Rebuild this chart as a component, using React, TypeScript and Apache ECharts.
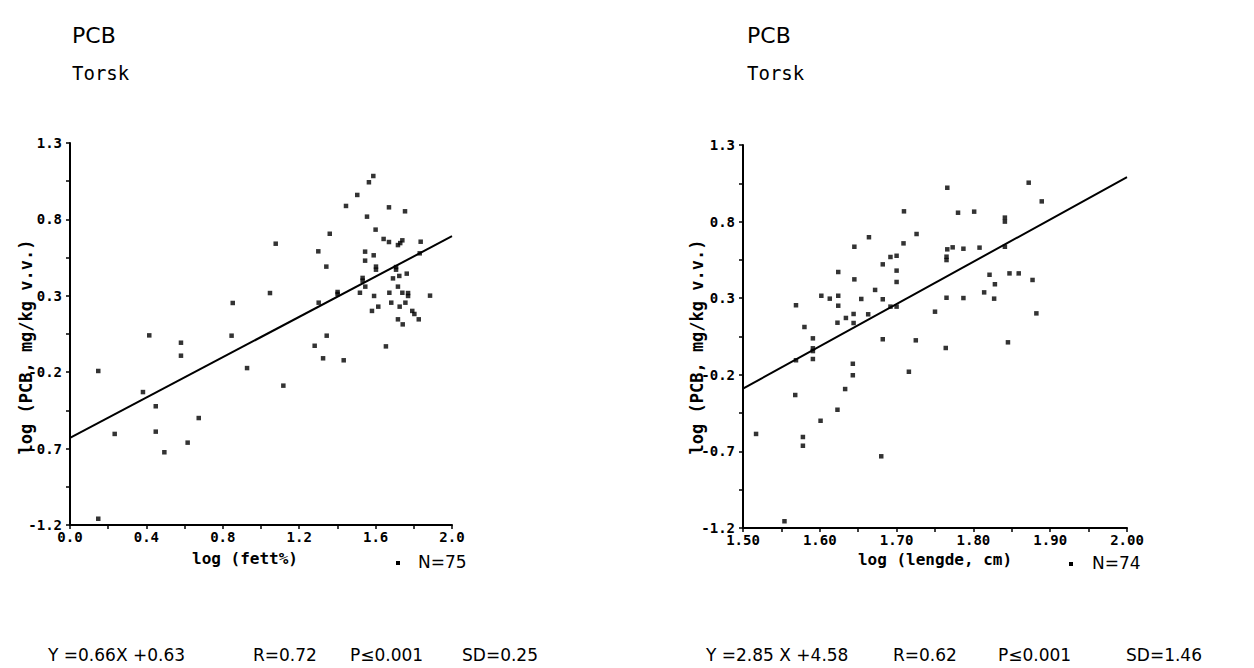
import React, { useEffect, useRef } from "react";
import * as echarts from "echarts";

// Left panel: log(fett%) vs log(PCB)
const leftPoints: number[][] = [
  [1.077, 0.641], [1.588, 1.084], [1.565, 1.043], [1.504, 0.96], [1.445, 0.888],
  [1.67, 0.879], [1.754, 0.853], [1.555, 0.818], [1.36, 0.706], [1.6, 0.733],
  [1.642, 0.672], [1.67, 0.652], [1.717, 0.632], [1.729, 0.645], [1.74, 0.663],
  [1.836, 0.654], [1.831, 0.578], [1.3, 0.591], [1.545, 0.589], [1.59, 0.565],
  [1.545, 0.53], [1.342, 0.491], [1.602, 0.491], [1.602, 0.471], [1.707, 0.488],
  [1.707, 0.471], [1.724, 0.43], [1.763, 0.445], [1.691, 0.414], [1.532, 0.417],
  [1.532, 0.399], [1.546, 0.36], [1.717, 0.36], [1.401, 0.325], [1.401, 0.312],
  [1.518, 0.32], [1.672, 0.32], [1.74, 0.32], [1.77, 0.318], [1.77, 0.299],
  [1.592, 0.299], [1.885, 0.301], [1.047, 0.318], [1.302, 0.255], [1.682, 0.255],
  [1.756, 0.255], [1.726, 0.229], [1.614, 0.229], [1.581, 0.201], [1.792, 0.201],
  [1.803, 0.181], [1.826, 0.146], [1.717, 0.146], [1.742, 0.113], [1.344, 0.039],
  [1.281, -0.027], [1.654, -0.031], [1.325, -0.109], [1.433, -0.122],
  [0.846, 0.039], [0.927, -0.173], [1.117, -0.288], [0.852, 0.253],
  [0.148, -0.192], [0.415, 0.041], [0.581, -0.007], [0.581, -0.092], [0.382, -0.33],
  [0.449, -0.423], [0.674, -0.5], [0.234, -0.604], [0.449, -0.589], [0.616, -0.661],
  [0.494, -0.724], [0.148, -1.159],
];
const leftLine: number[][] = [[0.0, -0.63], [2.0, 0.69]];

// Right panel: log(lengde, cm) vs log(PCB)
const rightPoints: number[][] = [
  [1.7096, 0.867], [1.726, 0.719], [1.664, 0.698], [1.645, 0.636], [1.709, 0.658],
  [1.692, 0.569], [1.7, 0.577], [1.682, 0.521], [1.624, 0.471], [1.7, 0.48],
  [1.645, 0.423], [1.7, 0.406], [1.672, 0.354], [1.602, 0.316], [1.613, 0.297],
  [1.624, 0.316], [1.654, 0.295], [1.682, 0.293], [1.569, 0.254], [1.624, 0.251],
  [1.692, 0.245], [1.7, 0.245], [1.75, 0.212], [1.644, 0.197], [1.663, 0.195],
  [1.634, 0.171], [1.623, 0.14], [1.644, 0.138], [1.58, 0.112], [1.591, 0.038],
  [1.682, 0.032], [1.725, 0.025], [1.591, -0.027], [1.591, -0.045], [1.591, -0.097],
  [1.569, -0.105], [1.643, -0.128], [1.643, -0.203], [1.716, -0.18], [1.633, -0.293],
  [1.568, -0.332], [1.623, -0.428], [1.601, -0.5], [1.517, -0.586], [1.578, -0.606],
  [1.578, -0.663], [1.68, -0.732], [1.554, -1.156],
  [1.766, 1.021], [1.872, 1.054], [1.889, 0.932], [1.78, 0.858], [1.801, 0.865],
  [1.841, 0.826], [1.841, 0.8], [1.766, 0.619], [1.773, 0.632], [1.787, 0.623],
  [1.808, 0.63], [1.765, 0.571], [1.765, 0.549], [1.841, 0.636], [1.821, 0.453],
  [1.847, 0.462], [1.859, 0.462], [1.828, 0.391], [1.877, 0.419], [1.814, 0.338],
  [1.765, 0.303], [1.787, 0.301], [1.827, 0.297], [1.882, 0.201],
  [1.764, -0.025], [1.845, 0.012],
];
const rightLine: number[][] = [[1.5, -0.29], [2.0, 1.09]];

const titles = ["PCB", "Torsk"];
const yName = "log (PCB, mg/kg v.v.)";
const xNames = ["log (fett%)", "log (lengde, cm)"];
const nLabels = ["N=75", "N=74"];
const leftStats = ["Y =0.66X +0.63", "R=0.72", "P≤0.001", "SD=0.25"];
const rightStats = ["Y =2.85 X +4.58", "R=0.62", "P≤0.001", "SD=1.46"];

const BLACK = "#000";
const tickFont = { color: BLACK, fontFamily: "DejaVu Sans Mono", fontWeight: "bold" as const, fontSize: 14, lineHeight: 14 };

function yAxis(gridIndex: number) {
  return {
    type: "value",
    gridIndex,
    min: -1.2,
    max: 1.3,
    interval: 0.25,
    axisLine: { show: true, lineStyle: { color: BLACK, width: 2 } },
    axisTick: { show: true, length: 4, lineStyle: { color: BLACK, width: 1.5 } },
    splitLine: { show: false },
    axisLabel: {
      ...tickFont,
      margin: 8,
      formatter: (v: number) => {
        const k = Math.round((v + 1.2) / 0.25);
        return k % 2 === 0 ? (-1.2 + k * 0.25).toFixed(1) : "";
      },
    },
  };
}

function xAxis(gridIndex: number, min: number, max: number, interval: number, digits: number) {
  return {
    type: "value",
    gridIndex,
    min,
    max,
    interval,
    axisLine: { show: true, onZero: false, lineStyle: { color: BLACK, width: 2 } },
    axisTick: { show: true, length: 4, lineStyle: { color: BLACK, width: 1.5 } },
    splitLine: { show: false },
    axisLabel: {
      ...tickFont,
      margin: 5,
      formatter: (v: number) => {
        const k = Math.round((v - min) / interval);
        return k % 2 === 0 ? (min + k * interval).toFixed(digits) : "";
      },
    },
  };
}

function txt(x: number, y: number, text: string, font: any, extra: any = {}) {
  return {
    type: "text",
    x,
    y,
    style: { text, fill: BLACK, verticalAlign: "middle", ...font, ...extra },
  };
}

export default function App() {
  const ref = useRef<HTMLDivElement>(null);
  useEffect(() => {
    if (!ref.current) return;
    const chart = echarts.init(ref.current, undefined, { renderer: "svg" });
    const titleFont = { fontFamily: "DejaVu Sans", fontSize: 22 };
    const subFont = { fontFamily: "DejaVu Sans Mono", fontSize: 19 };
    const nameFont = { fontFamily: "DejaVu Sans Mono", fontWeight: "bold", fontSize: 16, lineHeight: 16 };
    const yNameFont = { fontFamily: "DejaVu Sans Mono", fontWeight: "bold", fontSize: 17 };
    const statFont = { fontFamily: "DejaVu Sans", fontSize: 17 };
    const graphics: any[] = [
      txt(72, 35, titles[0], titleFont),
      txt(72, 73, titles[1], subFont),
      txt(747, 35, titles[0], titleFont),
      txt(747, 73, titles[1], subFont),
      { type: "text", x: 26, y: 347, rotation: Math.PI / 2, style: { text: yName, fill: BLACK, align: "center", verticalAlign: "middle", ...yNameFont } },
      { type: "text", x: 697, y: 347, rotation: Math.PI / 2, style: { text: yName, fill: BLACK, align: "center", verticalAlign: "middle", ...yNameFont } },
      txt(245, 558, xNames[0], nameFont, { align: "center" }),
      txt(935, 559, xNames[1], nameFont, { align: "center" }),
      { type: "rect", shape: { x: 396, y: 561, width: 4, height: 4 }, style: { fill: BLACK } },
      txt(418, 562, nLabels[0], { fontFamily: "DejaVu Sans", fontSize: 17 }),
      { type: "rect", shape: { x: 1069, y: 562, width: 4, height: 4 }, style: { fill: BLACK } },
      txt(1092, 563, nLabels[1], { fontFamily: "DejaVu Sans", fontSize: 17 }),
      txt(48, 655, leftStats[0], statFont),
      txt(253, 655, leftStats[1], statFont),
      txt(350, 655, leftStats[2], statFont),
      txt(462, 655, leftStats[3], statFont),
      txt(706, 655, rightStats[0], statFont),
      txt(893, 655, rightStats[1], statFont),
      txt(998, 655, rightStats[2], statFont),
      txt(1126, 655, rightStats[3], statFont),
    ];
    chart.setOption({
      animation: false,
      backgroundColor: "#fff",
      grid: [
        { left: 70, top: 143, width: 382, height: 382 },
        { left: 743, top: 145, width: 384, height: 383 },
      ],
      xAxis: [xAxis(0, 0, 2, 0.2, 1), xAxis(1, 1.5, 2.0, 0.05, 2)],
      yAxis: [yAxis(0), yAxis(1)],
      series: [
        { type: "scatter", xAxisIndex: 0, yAxisIndex: 0, data: leftPoints, symbol: "rect", symbolSize: 4.5, itemStyle: { color: BLACK } },
        { type: "line", xAxisIndex: 0, yAxisIndex: 0, data: leftLine, symbol: "none", lineStyle: { color: BLACK, width: 2 } },
        { type: "scatter", xAxisIndex: 1, yAxisIndex: 1, data: rightPoints, symbol: "rect", symbolSize: 4.5, itemStyle: { color: BLACK } },
        { type: "line", xAxisIndex: 1, yAxisIndex: 1, data: rightLine, symbol: "none", lineStyle: { color: BLACK, width: 2 } },
      ],
      graphic: graphics,
    });
    return () => chart.dispose();
  }, []);
  return (
    <div
      ref={ref}
      style={{ position: "fixed", left: 0, top: 0, width: 1254, height: 668, background: "#fff" }}
    />
  );
}
